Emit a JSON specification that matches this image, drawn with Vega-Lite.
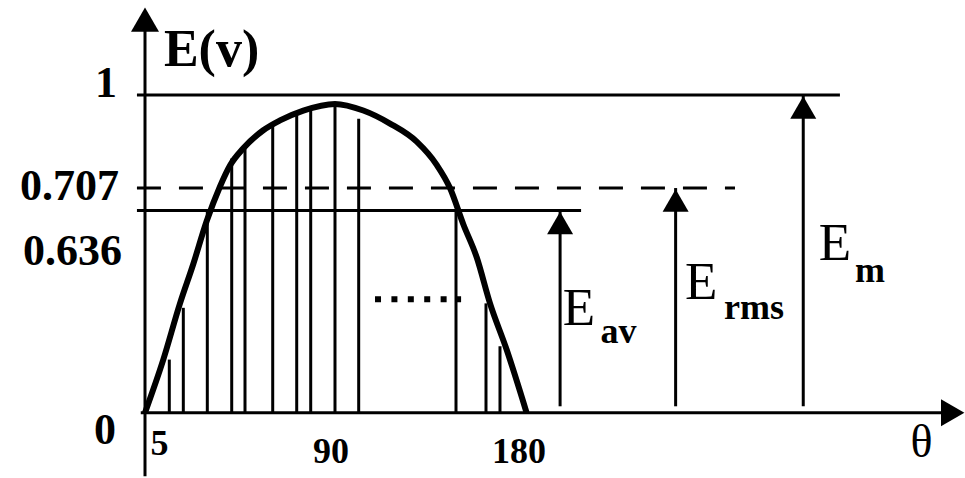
{
  "$schema": "https://vega.github.io/schema/vega-lite/v6.json",
  "width": 965,
  "height": 478,
  "padding": 0,
  "autosize": {"type": "fit", "contains": "padding"},
  "background": "white",
  "config": {"view": {"stroke": null}},
  "datasets": {
    "curve": [
      {"theta": 0, "e": 0},
      {"theta": 8.63, "e": 0.167},
      {"theta": 16.51, "e": 0.344},
      {"theta": 22.78, "e": 0.468},
      {"theta": 29.1, "e": 0.603},
      {"theta": 35.38, "e": 0.712},
      {"theta": 40.09, "e": 0.778},
      {"theta": 46.37, "e": 0.832},
      {"theta": 55.8, "e": 0.889},
      {"theta": 63.68, "e": 0.92},
      {"theta": 74.67, "e": 0.951},
      {"theta": 89.62, "e": 0.972},
      {"theta": 102.97, "e": 0.951},
      {"theta": 115.57, "e": 0.91},
      {"theta": 128.16, "e": 0.853},
      {"theta": 137.59, "e": 0.78},
      {"theta": 143.87, "e": 0.707},
      {"theta": 150.14, "e": 0.593},
      {"theta": 156.46, "e": 0.489},
      {"theta": 162.74, "e": 0.344},
      {"theta": 170.61, "e": 0.198},
      {"theta": 180, "e": 0}
    ],
    "strips": [
      {"theta": 11.46, "e": 0.167},
      {"theta": 18.07, "e": 0.33},
      {"theta": 29.39, "e": 0.636},
      {"theta": 40.9, "e": 0.8},
      {"theta": 47.17, "e": 0.835},
      {"theta": 60.24, "e": 0.905},
      {"theta": 71.56, "e": 0.945},
      {"theta": 78.16, "e": 0.955},
      {"theta": 89.62, "e": 0.972},
      {"theta": 100.8, "e": 0.925},
      {"theta": 146.7, "e": 0.636},
      {"theta": 160.85, "e": 0.344},
      {"theta": 167.45, "e": 0.209}
    ],
    "levels": [
      {"name": "Em", "e": 1, "theta": -3.8, "theta2": 327.8},
      {"name": "Eav", "e": 0.636, "theta": -3.8, "theta2": 205.7}
    ],
    "rmsLevel": [
      {"name": "Erms", "e": 0.707, "theta": -3.8, "theta2": 278.3}
    ],
    "arrows": [
      {"name": "Eav", "theta": 195.8, "e": 0.636, "e0": 0.02},
      {"name": "Erms", "theta": 250.3, "e": 0.707, "e0": 0.02},
      {"name": "Em", "theta": 310.5, "e": 1, "e0": 0.02}
    ],
    "tickLabels": [
      {"label": "1", "theta": -18.4, "e": 0.994},
      {"label": "0.707", "theta": -35.6, "e": 0.67},
      {"label": "0.636", "theta": -34.2, "e": 0.464},
      {"label": "0", "theta": -18.9, "e": -0.1}
    ],
    "xLabels": [
      {"label": "5", "theta": 6.84, "e": -0.134},
      {"label": "90", "theta": 87.7, "e": -0.159},
      {"label": "180", "theta": 176.4, "e": -0.159}
    ],
    "bigE": [
      {"label": "E", "theta": 204.7, "e": 0.277},
      {"label": "E", "theta": 262.3, "e": 0.358},
      {"label": "E", "theta": 325.5, "e": 0.48}
    ],
    "subscripts": [
      {"label": "av", "theta": 223.3, "e": 0.218},
      {"label": "rms", "theta": 287.3, "e": 0.296},
      {"label": "m", "theta": 342, "e": 0.411}
    ]
  },
  "encoding": {
    "x": {"field": "theta", "type": "quantitative", "scale": {"domain": [-68.4, 386.8], "nice": false, "zero": false}, "axis": null},
    "y": {"field": "e", "type": "quantitative", "scale": {"domain": [-0.19, 1.299], "nice": false, "zero": false}, "axis": null}
  },
  "layer": [
    {
      "data": {"values": [{"theta": 0, "e": 1.23, "e0": -0.2}]},
      "mark": {"type": "rule", "color": "black", "strokeWidth": 3},
      "encoding": {"y2": {"field": "e0"}}
    },
    {
      "data": {"values": [{"theta": -2, "theta2": 378, "e": 0}]},
      "mark": {"type": "rule", "color": "black", "strokeWidth": 3},
      "encoding": {"x2": {"field": "theta2"}}
    },
    {
      "data": {"values": [{"theta": 0, "e": 1.237}]},
      "mark": {"type": "point", "shape": "triangle-up", "filled": true, "color": "black", "opacity": 1, "size": 784}
    },
    {
      "data": {"values": [{"theta": 381, "e": 0}]},
      "mark": {"type": "point", "shape": "triangle-right", "filled": true, "color": "black", "opacity": 1, "size": 729}
    },
    {
      "data": {"name": "levels"},
      "mark": {"type": "rule", "color": "black", "strokeWidth": 3},
      "encoding": {"x2": {"field": "theta2"}}
    },
    {
      "data": {"name": "rmsLevel"},
      "mark": {"type": "rule", "color": "black", "strokeWidth": 3, "strokeDash": [24, 18]},
      "encoding": {"x2": {"field": "theta2"}}
    },
    {
      "data": {"name": "strips"},
      "mark": {"type": "rule", "color": "black", "strokeWidth": 3},
      "encoding": {"y2": {"datum": 0}}
    },
    {
      "data": {"name": "curve"},
      "mark": {"type": "line", "color": "black", "strokeWidth": 6, "interpolate": "monotone", "strokeJoin": "round"}
    },
    {
      "data": {"values": [{"theta": 108.5, "theta2": 149.1, "e": 0.357}]},
      "mark": {"type": "rule", "color": "black", "strokeWidth": 6, "strokeDash": [6, 10.4]},
      "encoding": {"x2": {"field": "theta2"}}
    },
    {
      "data": {"name": "arrows"},
      "mark": {"type": "rule", "color": "black", "strokeWidth": 3},
      "encoding": {"y2": {"field": "e0"}}
    },
    {
      "data": {"name": "arrows"},
      "mark": {"type": "point", "shape": "triangle-up", "filled": true, "color": "black", "opacity": 1, "size": 676, "yOffset": 12.5}
    },
    {
      "data": {"name": "tickLabels"},
      "mark": {"type": "text", "font": "Liberation Serif", "fontWeight": "bold", "fontSize": 44, "align": "center", "baseline": "alphabetic", "color": "black"},
      "encoding": {"text": {"field": "label"}}
    },
    {
      "data": {"name": "xLabels"},
      "mark": {"type": "text", "font": "Liberation Serif", "fontWeight": "bold", "fontSize": 36, "align": "center", "baseline": "alphabetic", "color": "black"},
      "encoding": {"text": {"field": "label"}}
    },
    {
      "data": {"values": [{"label": "θ", "theta": 366.3, "e": -0.14}]},
      "mark": {"type": "text", "font": "Liberation Serif", "fontSize": 46, "align": "center", "baseline": "alphabetic", "color": "black"},
      "encoding": {"text": {"field": "label"}}
    },
    {
      "data": {"values": [{"label": "E(v)", "theta": 31.4, "e": 1.09}]},
      "mark": {"type": "text", "font": "Liberation Serif", "fontWeight": "bold", "fontSize": 52, "align": "center", "baseline": "alphabetic", "color": "black"},
      "encoding": {"text": {"field": "label"}}
    },
    {
      "data": {"name": "bigE"},
      "mark": {"type": "text", "font": "Liberation Serif", "fontSize": 53, "align": "center", "baseline": "alphabetic", "color": "black"},
      "encoding": {"text": {"field": "label"}}
    },
    {
      "data": {"name": "subscripts"},
      "mark": {"type": "text", "font": "Liberation Serif", "fontWeight": "bold", "fontSize": 36, "align": "center", "baseline": "alphabetic", "color": "black"},
      "encoding": {"text": {"field": "label"}}
    }
  ]
}
